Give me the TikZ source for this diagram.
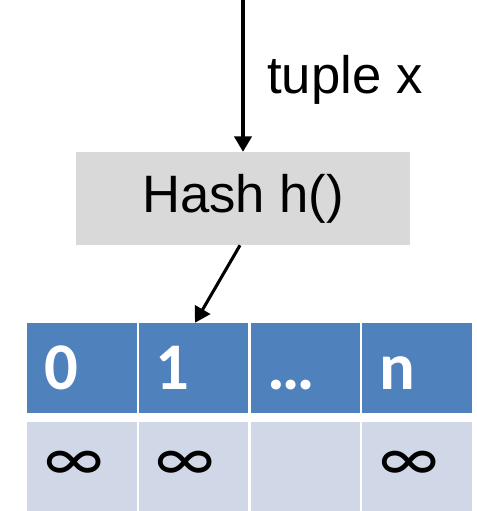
\documentclass[tikz,border=0pt]{standalone}
\usepackage{fontspec}
\setmainfont{Liberation Sans}
\newfontfamily\cellfont{Carlito}
\usetikzlibrary{arrows.meta}
\definecolor{headblue}{HTML}{4F81BD}
\definecolor{bodyblue}{HTML}{D0D8E8}
\definecolor{hashgray}{HTML}{D9D9D9}
\begin{document}
\begin{tikzpicture}[x=0.75pt,y=-0.75pt,
  arr/.style={line width=2.3pt,-{Triangle[width=13pt,length=11.5pt]}},
  hashbox/.style={fill=hashgray,inner sep=0pt,minimum width=250.5pt,minimum height=69.75pt,
    font=\fontsize{39.5}{39.5}\selectfont},
  lbl/.style={inner sep=0pt,font=\fontsize{39.5}{39.5}\selectfont},
  cell/.style={inner xsep=12.75pt,inner ysep=0pt,text width=56.5pt,align=left,
    font=\cellfont\bfseries\fontsize{50}{50}\selectfont},
  headcell/.style={cell,fill=headblue,text=white,minimum height=67.5pt,
    text height=32pt,text depth=0pt},
  bodycell/.style={cell,fill=bodyblue,text=black,minimum height=66.75pt},
  inf/.style={font=\cellfont\fontsize{52}{52}\selectfont}]
\useasboundingbox (0,0) rectangle (476,511);
\clip (0,0) rectangle (476,511);

% hash function block and its input
\coordinate (in) at (243,0);
\node[hashbox] (hash) at (243,198.5) {Hash h()};
\node[lbl,anchor=base west] (tup) at (267,93) {tuple x};

% bucket header row
\node[headcell] (c0) at (82.0,368) {0};
\node[headcell] (c1) at (193.65,368) {1};
\node[headcell] (c2) at (305.35,368) {…};
\node[headcell] (c3) at (417.0,368) {n};

% bucket value row
\node[bodycell,inf] (v0) at (82.0,466.5) {∞};
\node[bodycell,inf] (v1) at (193.65,466.5) {∞};
\node[bodycell] (v2) at (305.35,466.5) {};
\node[bodycell,inf] (v3) at (417.0,466.5) {∞};

% arrows
\draw[arr] (in) -- (hash.north);
\draw[arr] ([xshift=-2.25pt]hash.south) -- ([xshift=1pt]c1.north);
\end{tikzpicture}
\end{document}
